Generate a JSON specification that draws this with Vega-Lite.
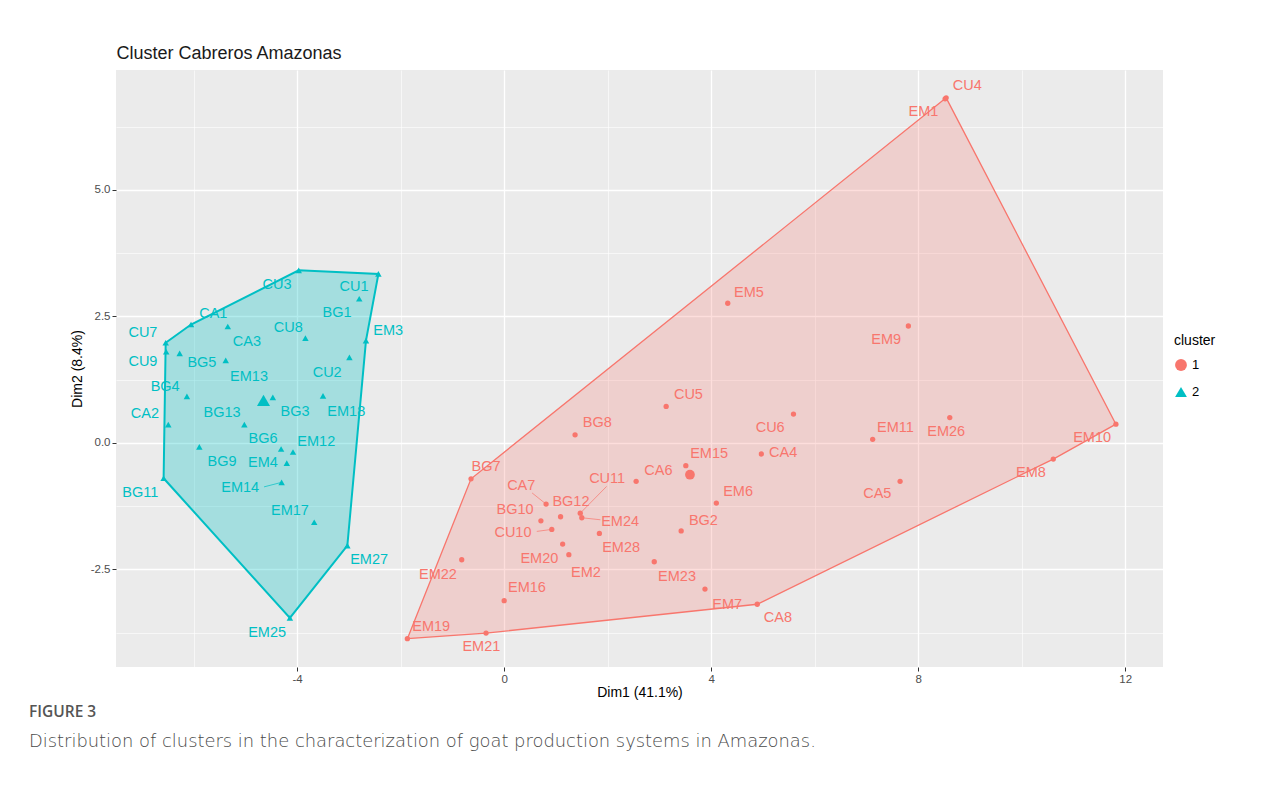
{
  "$schema": "https://vega.github.io/schema/vega-lite/v6.json",
  "background": "white",
  "autosize": {"type": "none"},
  "width": 1047,
  "height": 597,
  "padding": {"left": 116, "top": 70, "right": 125, "bottom": 136},
  "title": {
    "text": "FIGURE 3",
    "subtitle": "Distribution of clusters in the characterization of goat production systems in Amazonas.",
    "orient": "bottom",
    "anchor": "start",
    "frame": "group",
    "dx": -87,
    "offset": 5,
    "font": "Open Sans",
    "fontSize": 15.5,
    "fontWeight": 600,
    "color": "#555555",
    "subtitleFont": "DejaVu Sans",
    "subtitleFontSize": 17.9,
    "subtitleFontWeight": 200,
    "subtitleColor": "#4a4a4a",
    "subtitlePadding": 13
  },
  "datasets": {
    "pts": [
      {"name": "CU3", "cluster": "2", "x": -3.97, "y": 3.41, "lx": -4.39, "ly": 3.12},
      {"name": "CU1", "cluster": "2", "x": -2.43, "y": 3.34, "lx": -2.90, "ly": 3.08},
      {"name": "BG1", "cluster": "2", "x": -2.80, "y": 2.85, "lx": -3.23, "ly": 2.57},
      {"name": "CA1", "cluster": "2", "x": -6.05, "y": 2.34, "lx": -5.62, "ly": 2.55},
      {"name": "CA3", "cluster": "2", "x": -5.34, "y": 2.30, "lx": -4.97, "ly": 2.00},
      {"name": "CU7", "cluster": "2", "x": -6.54, "y": 1.98, "lx": -6.98, "ly": 2.17},
      {"name": "CU8", "cluster": "2", "x": -3.84, "y": 2.07, "lx": -4.17, "ly": 2.27},
      {"name": "EM3", "cluster": "2", "x": -2.67, "y": 2.02, "lx": -2.24, "ly": 2.21},
      {"name": "CU9", "cluster": "2", "x": -6.53, "y": 1.80, "lx": -6.98, "ly": 1.60},
      {"name": "BG5", "cluster": "2", "x": -6.27, "y": 1.77, "lx": -5.84, "ly": 1.58},
      {"name": "EM13", "cluster": "2", "x": -5.38, "y": 1.63, "lx": -4.93, "ly": 1.30},
      {"name": "CU2", "cluster": "2", "x": -2.99, "y": 1.69, "lx": -3.42, "ly": 1.38},
      {"name": "BG4", "cluster": "2", "x": -6.13, "y": 0.92, "lx": -6.55, "ly": 1.11},
      {"name": "BG3", "cluster": "2", "x": -4.47, "y": 0.90, "lx": -4.04, "ly": 0.61},
      {"name": "EM18", "cluster": "2", "x": -3.50, "y": 0.93, "lx": -3.05, "ly": 0.61},
      {"name": "CA2", "cluster": "2", "x": -6.49, "y": 0.36, "lx": -6.94, "ly": 0.57},
      {"name": "BG13", "cluster": "2", "x": -5.02, "y": 0.36, "lx": -5.45, "ly": 0.59},
      {"name": "BG9", "cluster": "2", "x": -5.89, "y": -0.08, "lx": -5.45, "ly": -0.38},
      {"name": "BG6", "cluster": "2", "x": -4.31, "y": -0.12, "lx": -4.66, "ly": 0.08},
      {"name": "EM12", "cluster": "2", "x": -4.08, "y": -0.18, "lx": -3.63, "ly": 0.02},
      {"name": "EM4", "cluster": "2", "x": -4.20, "y": -0.40, "lx": -4.66, "ly": -0.40},
      {"name": "EM14", "cluster": "2", "x": -4.30, "y": -0.78, "lx": -5.10, "ly": -0.89, "sx": -4.64, "sy": -0.87},
      {"name": "BG11", "cluster": "2", "x": -6.58, "y": -0.70, "lx": -7.03, "ly": -0.99},
      {"name": "EM17", "cluster": "2", "x": -3.67, "y": -1.57, "lx": -4.14, "ly": -1.34},
      {"name": "EM27", "cluster": "2", "x": -3.03, "y": -2.03, "lx": -2.61, "ly": -2.31},
      {"name": "EM25", "cluster": "2", "x": -4.14, "y": -3.46, "lx": -4.58, "ly": -3.75},
      {"name": "CU5", "cluster": "1", "x": 3.13, "y": 0.72, "lx": 3.56, "ly": 0.95},
      {"name": "BG8", "cluster": "1", "x": 1.37, "y": 0.16, "lx": 1.80, "ly": 0.40},
      {"name": "CU6", "cluster": "1", "x": 5.59, "y": 0.57, "lx": 5.14, "ly": 0.30},
      {"name": "CA4", "cluster": "1", "x": 4.97, "y": -0.22, "lx": 5.39, "ly": -0.20},
      {"name": "EM15", "cluster": "1", "x": 3.51, "y": -0.45, "lx": 3.96, "ly": -0.22},
      {"name": "CA6", "cluster": "1", "x": 2.55, "y": -0.76, "lx": 2.98, "ly": -0.55},
      {"name": "BG7", "cluster": "1", "x": -0.64, "y": -0.71, "lx": -0.35, "ly": -0.47},
      {"name": "CU11", "cluster": "1", "x": 1.47, "y": -1.39, "lx": 1.99, "ly": -0.71, "sx": 1.98, "sy": -0.86},
      {"name": "CA7", "cluster": "1", "x": 0.81, "y": -1.21, "lx": 0.33, "ly": -0.85, "sx": 0.54, "sy": -0.99},
      {"name": "EM6", "cluster": "1", "x": 4.10, "y": -1.19, "lx": 4.52, "ly": -0.97},
      {"name": "BG12", "cluster": "1", "x": 1.09, "y": -1.46, "lx": 1.29, "ly": -1.17},
      {"name": "BG10", "cluster": "1", "x": 0.71, "y": -1.54, "lx": 0.21, "ly": -1.32},
      {"name": "EM24", "cluster": "1", "x": 1.50, "y": -1.48, "lx": 2.24, "ly": -1.56, "sx": 1.86, "sy": -1.52},
      {"name": "CU10", "cluster": "1", "x": 0.92, "y": -1.71, "lx": 0.17, "ly": -1.78, "sx": 0.63, "sy": -1.75},
      {"name": "BG2", "cluster": "1", "x": 3.42, "y": -1.74, "lx": 3.85, "ly": -1.54},
      {"name": "EM28", "cluster": "1", "x": 1.84, "y": -1.79, "lx": 2.26, "ly": -2.08},
      {"name": "EM20", "cluster": "1", "x": 1.13, "y": -2.00, "lx": 0.68, "ly": -2.29},
      {"name": "EM2", "cluster": "1", "x": 1.25, "y": -2.21, "lx": 1.58, "ly": -2.57},
      {"name": "EM22", "cluster": "1", "x": -0.82, "y": -2.31, "lx": -1.28, "ly": -2.61},
      {"name": "EM23", "cluster": "1", "x": 2.90, "y": -2.35, "lx": 3.34, "ly": -2.65},
      {"name": "EM16", "cluster": "1", "x": 0.00, "y": -3.12, "lx": 0.44, "ly": -2.87},
      {"name": "EM7", "cluster": "1", "x": 3.88, "y": -2.89, "lx": 4.31, "ly": -3.20},
      {"name": "CA8", "cluster": "1", "x": 4.89, "y": -3.19, "lx": 5.29, "ly": -3.46},
      {"name": "EM19", "cluster": "1", "x": -1.87, "y": -3.87, "lx": -1.41, "ly": -3.64},
      {"name": "EM21", "cluster": "1", "x": -0.35, "y": -3.76, "lx": -0.44, "ly": -4.03},
      {"name": "EM5", "cluster": "1", "x": 4.32, "y": 2.76, "lx": 4.73, "ly": 2.96},
      {"name": "CU4", "cluster": "1", "x": 8.54, "y": 6.82, "lx": 8.95, "ly": 7.06},
      {"name": "EM1", "cluster": "1", "x": 8.52, "y": 6.80, "lx": 8.10, "ly": 6.54},
      {"name": "EM9", "cluster": "1", "x": 7.81, "y": 2.31, "lx": 7.38, "ly": 2.04},
      {"name": "EM11", "cluster": "1", "x": 7.12, "y": 0.07, "lx": 7.56, "ly": 0.30},
      {"name": "EM26", "cluster": "1", "x": 8.61, "y": 0.50, "lx": 8.54, "ly": 0.22},
      {"name": "EM10", "cluster": "1", "x": 11.82, "y": 0.37, "lx": 11.36, "ly": 0.10},
      {"name": "EM8", "cluster": "1", "x": 10.61, "y": -0.32, "lx": 10.18, "ly": -0.59},
      {"name": "CA5", "cluster": "1", "x": 7.65, "y": -0.76, "lx": 7.21, "ly": -1.01}
    ],
    "centers": [
      {"cluster": "1", "x": 3.59, "y": -0.63},
      {"cluster": "2", "x": -4.65, "y": 0.84}
    ],
    "hull": [
      {"cluster": "2", "o": 1, "x": -6.54, "y": 1.98},
      {"cluster": "2", "o": 2, "x": -6.05, "y": 2.34},
      {"cluster": "2", "o": 3, "x": -3.97, "y": 3.41},
      {"cluster": "2", "o": 4, "x": -2.43, "y": 3.34},
      {"cluster": "2", "o": 5, "x": -2.67, "y": 2.02},
      {"cluster": "2", "o": 6, "x": -3.03, "y": -2.03},
      {"cluster": "2", "o": 7, "x": -4.14, "y": -3.46},
      {"cluster": "2", "o": 8, "x": -6.58, "y": -0.70},
      {"cluster": "2", "o": 9, "x": -6.54, "y": 1.98},
      {"cluster": "1", "o": 1, "x": -1.87, "y": -3.87},
      {"cluster": "1", "o": 2, "x": -0.64, "y": -0.71},
      {"cluster": "1", "o": 3, "x": 8.54, "y": 6.82},
      {"cluster": "1", "o": 4, "x": 11.82, "y": 0.37},
      {"cluster": "1", "o": 5, "x": 10.61, "y": -0.32},
      {"cluster": "1", "o": 6, "x": 4.89, "y": -3.19},
      {"cluster": "1", "o": 7, "x": -0.35, "y": -3.76},
      {"cluster": "1", "o": 8, "x": -1.87, "y": -3.87}
    ]
  },
  "layer": [
    {
      "layer": [
        {
          "data": {"name": "hull"},
          "transform": [{"filter": "datum.cluster === '2'"}],
          "mark": {"type": "line", "fill": "#00BFC4", "fillOpacity": 0.3, "stroke": "#00BFC4", "strokeWidth": 2},
          "encoding": {
            "x": {"field": "x", "type": "quantitative"},
            "y": {"field": "y", "type": "quantitative"},
            "order": {"field": "o", "type": "quantitative"}
          }
        },
        {
          "data": {"name": "hull"},
          "transform": [{"filter": "datum.cluster === '1'"}],
          "mark": {"type": "line", "fill": "#F8766D", "fillOpacity": 0.24, "stroke": "#F8766D", "strokeWidth": 1.3},
          "encoding": {
            "x": {"field": "x", "type": "quantitative"},
            "y": {"field": "y", "type": "quantitative"},
            "order": {"field": "o", "type": "quantitative"}
          }
        },
        {
          "data": {"name": "pts"},
          "transform": [{"filter": "isValid(datum.sx)"}],
          "mark": {"type": "rule", "strokeWidth": 0.7},
          "encoding": {
            "x": {"field": "sx", "type": "quantitative"},
            "y": {"field": "sy", "type": "quantitative"},
            "x2": {"field": "x"},
            "y2": {"field": "y"},
            "color": {"condition": {"test": "datum.cluster === '1'", "value": "#F8766D"}, "value": "#00BFC4"}
          }
        },
        {
          "data": {"name": "pts"},
          "transform": [{"filter": "datum.cluster === '1'"}],
          "mark": {"type": "point", "filled": true, "opacity": 1, "size": 28},
          "encoding": {
            "x": {"field": "x", "type": "quantitative"},
            "y": {"field": "y", "type": "quantitative"},
            "color": {"field": "cluster", "type": "nominal", "title": "cluster", "scale": {"domain": ["1", "2"], "range": ["#F8766D", "#00BFC4"]}},
            "shape": {"field": "cluster", "type": "nominal", "title": "cluster", "scale": {"domain": ["1", "2"], "range": ["circle", "triangle-up"]}}
          }
        },
        {
          "data": {"name": "pts"},
          "transform": [{"filter": "datum.cluster === '2'"}],
          "mark": {"type": "point", "filled": true, "opacity": 1, "size": 42},
          "encoding": {
            "x": {"field": "x", "type": "quantitative"},
            "y": {"field": "y", "type": "quantitative"},
            "color": {"field": "cluster", "type": "nominal", "title": "cluster"},
            "shape": {"field": "cluster", "type": "nominal", "title": "cluster"}
          }
        },
        {
          "data": {"name": "centers"},
          "transform": [{"filter": "datum.cluster === '1'"}],
          "mark": {"type": "point", "filled": true, "opacity": 1, "size": 95},
          "encoding": {
            "x": {"field": "x", "type": "quantitative"},
            "y": {"field": "y", "type": "quantitative"},
            "color": {"field": "cluster", "type": "nominal", "title": "cluster"},
            "shape": {"field": "cluster", "type": "nominal", "title": "cluster"}
          }
        },
        {
          "data": {"name": "centers"},
          "transform": [{"filter": "datum.cluster === '2'"}],
          "mark": {"type": "point", "filled": true, "opacity": 1, "size": 170},
          "encoding": {
            "x": {"field": "x", "type": "quantitative"},
            "y": {"field": "y", "type": "quantitative"},
            "color": {"field": "cluster", "type": "nominal", "title": "cluster"},
            "shape": {"field": "cluster", "type": "nominal", "title": "cluster"}
          }
        },
        {
          "data": {"name": "pts"},
          "mark": {"type": "text", "font": "Liberation Sans", "fontSize": 14.5, "align": "center", "baseline": "middle"},
          "encoding": {
            "x": {"field": "lx", "type": "quantitative"},
            "y": {"field": "ly", "type": "quantitative"},
            "text": {"field": "name"},
            "color": {"condition": {"test": "datum.cluster === '1'", "value": "#F8766D"}, "value": "#00BFC4"}
          }
        }
      ],
      "encoding": {
        "x": {
          "type": "quantitative",
          "scale": {"domain": [-7.5, 12.73], "nice": false, "zero": false},
          "axis": {
            "title": "Dim1 (41.1%)",
            "values": [-6, -4, -2, 0, 2, 4, 6, 8, 10, 12],
            "labelExpr": "datum.value % 4 === 0 ? replace(format(datum.value, 'd'), '\u2212', '-') : ''",
            "gridWidth": {"condition": {"test": "datum.value % 4 === 0", "value": 1.3}, "value": 0.6},
            "tickOpacity": {"condition": {"test": "datum.value % 4 === 0", "value": 1}, "value": 0},
            "titlePadding": 1
          }
        },
        "y": {
          "type": "quantitative",
          "scale": {"domain": [-4.43, 7.37], "nice": false, "zero": false},
          "axis": {
            "title": "Dim2 (8.4%)",
            "values": [-3.75, -2.5, -1.25, 0, 1.25, 2.5, 3.75, 5, 6.25],
            "labelExpr": "datum.value % 2.5 === 0 ? replace(format(datum.value, '.1f'), '\u2212', '-') : ''",
            "gridWidth": {"condition": {"test": "datum.value % 2.5 === 0", "value": 1.3}, "value": 0.6},
            "tickOpacity": {"condition": {"test": "datum.value % 2.5 === 0", "value": 1}, "value": 0},
            "titlePadding": 6
          }
        }
      }
    },
    {
      "data": {"name": "centers"},
      "mark": {"type": "point", "opacity": 0},
      "encoding": {
        "x": {
          "field": "x",
          "type": "quantitative",
          "scale": {"domain": [-7.5, 12.73], "nice": false, "zero": false},
          "axis": {
            "orient": "top",
            "title": "Cluster Cabreros Amazonas",
            "labels": false,
            "ticks": false,
            "grid": false,
            "domain": false,
            "titleFont": "Liberation Sans",
            "titleFontSize": 18,
            "titleColor": "#1a1a1a",
            "titleAnchor": "start",
            "titleAlign": "left",
            "titleBaseline": "alphabetic",
            "titleX": 0,
            "titleY": -12
          }
        },
        "y": {"field": "y", "type": "quantitative"}
      }
    }
  ],
  "resolve": {"scale": {"x": "independent"}, "axis": {"x": "independent"}},
  "config": {
    "view": {"fill": "#EBEBEB", "stroke": null},
    "axis": {
      "domain": false,
      "gridColor": "#FFFFFF",
      "tickColor": "#333333",
      "tickSize": 4,
      "labelColor": "#4D4D4D",
      "labelFont": "Liberation Sans",
      "labelFontSize": 11.5,
      "labelPadding": 2,
      "titleFont": "Liberation Sans",
      "titleFontSize": 14,
      "titleFontWeight": "normal",
      "titleColor": "#000000"
    },
    "legend": {
      "orient": "none",
      "legendX": 1058,
      "legendY": 264,
      "titleFont": "Liberation Sans",
      "titleFontSize": 14,
      "titleFontWeight": "normal",
      "titleColor": "#000000",
      "titlePadding": 10,
      "labelFont": "Liberation Sans",
      "labelFontSize": 13,
      "labelColor": "#000000",
      "symbolSize": 140,
      "rowPadding": 9,
      "symbolOpacity": 1
    }
  }
}
